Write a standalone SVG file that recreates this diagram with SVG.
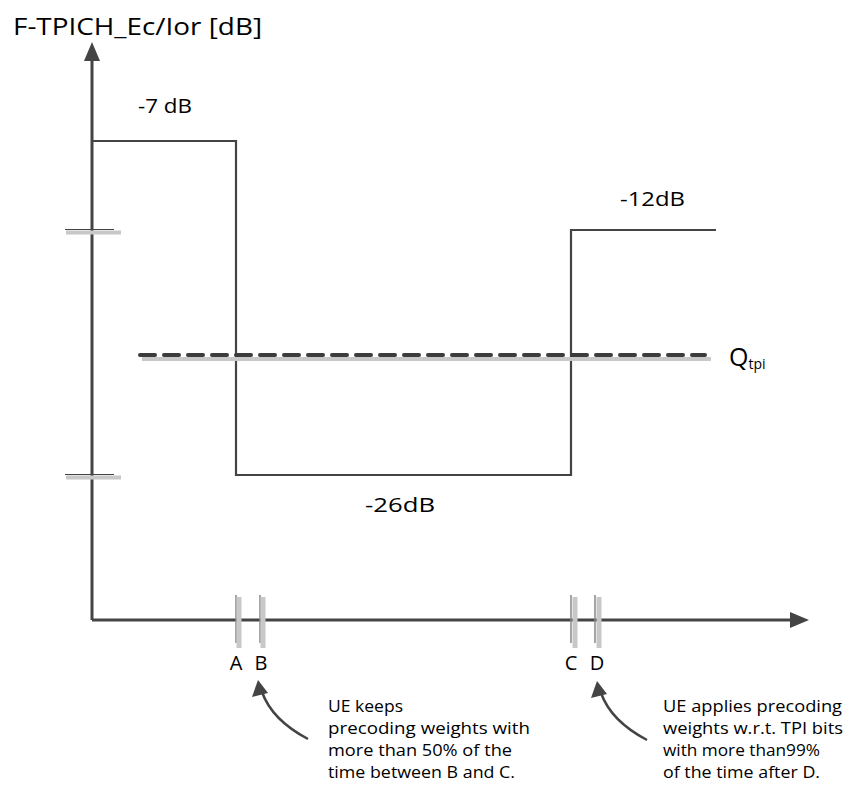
<svg xmlns="http://www.w3.org/2000/svg" width="851" height="789" viewBox="0 0 851 789">
<style>
.t{font-family:"Open Sans","Liberation Sans",sans-serif;fill:#000}
.ax{stroke:#444;stroke-width:3;fill:none}
.sig{stroke:#444;stroke-width:2.2;fill:none}
.gr{stroke:#c8c8c8;fill:none}
.tk{stroke:#888;stroke-width:1.5}
.ah{fill:#444}
</style>
<rect width="851" height="789" fill="#fff"/>
<g id="axes">
<line class="ax" x1="92" y1="620" x2="92" y2="56"/>
<polygon class="ah" points="92,42 84,61 100,61"/>
<line class="ax" x1="92" y1="620" x2="794" y2="620"/>
<polygon class="ah" points="809,620 790,612 790,628"/>
<line x1="65" y1="229.5" x2="114" y2="229.5" stroke="#444" stroke-width="1.2"/>
<line class="gr" x1="66" y1="232.5" x2="121" y2="232.5" stroke-width="4"/>
<line x1="65" y1="474.5" x2="114" y2="474.5" stroke="#444" stroke-width="1.2"/>
<line class="gr" x1="66" y1="477.5" x2="121" y2="477.5" stroke-width="4"/>
</g>
<g id="signal">
<polyline class="sig" points="92,141 236,141 236,475 571,475 571,230 716,230"/>
</g>
<g id="threshold">
<line class="gr" x1="142" y1="359" x2="711" y2="359" stroke-width="4"/>
<line x1="140" y1="355" x2="705" y2="355" stroke="#3c3c3c" stroke-width="4" stroke-linecap="round" stroke-dasharray="15 9"/>
<text class="t" x="729" y="366" font-size="25">Q<tspan font-size="14" dy="3">tpi</tspan></text>
</g>
<g id="marks">
<line class="tk" x1="236" y1="595" x2="236" y2="643"/>
<line class="gr" x1="239" y1="597" x2="239" y2="648" stroke-width="5"/>
<line class="tk" x1="260" y1="595" x2="260" y2="643"/>
<line class="gr" x1="263" y1="597" x2="263" y2="648" stroke-width="5"/>
<line class="tk" x1="571" y1="595" x2="571" y2="643"/>
<line class="gr" x1="575" y1="597" x2="575" y2="648" stroke-width="5"/>
<line class="tk" x1="595" y1="595" x2="595" y2="643"/>
<line class="gr" x1="599" y1="597" x2="599" y2="648" stroke-width="5"/>
<text class="t" x="236" y="670" font-size="20" text-anchor="middle">A</text>
<text class="t" x="261" y="670" font-size="20" text-anchor="middle">B</text>
<text class="t" x="571" y="670" font-size="20" text-anchor="middle">C</text>
<text class="t" x="597" y="670" font-size="20" text-anchor="middle">D</text>
</g>
<g id="labels">
<text class="t" x="13" y="35" font-size="24" textLength="249" lengthAdjust="spacingAndGlyphs">F-TPICH_Ec/Ior [dB]</text>
<text class="t" x="138" y="113" font-size="20" textLength="54" lengthAdjust="spacingAndGlyphs">-7 dB</text>
<text class="t" x="620" y="206" font-size="20" textLength="65" lengthAdjust="spacingAndGlyphs">-12dB</text>
<text class="t" x="365" y="512" font-size="20" textLength="70" lengthAdjust="spacingAndGlyphs">-26dB</text>
</g>
<g id="connectors">
<path d="M308,739 Q272,720 262,692" stroke="#444" stroke-width="2.5" fill="none"/>
<polygon class="ah" points="258,680 252,697 268,693"/>
<path d="M647,740 Q611,721 601,693" stroke="#444" stroke-width="2.5" fill="none"/>
<polygon class="ah" points="597,681 591,698 607,694"/>
</g>
<g id="note1" class="t" font-size="17">
<text x="328" y="712" textLength="75" lengthAdjust="spacingAndGlyphs">UE keeps</text>
<text x="328" y="734" textLength="202" lengthAdjust="spacingAndGlyphs">precoding weights with</text>
<text x="328" y="756" textLength="184" lengthAdjust="spacingAndGlyphs">more than 50% of the</text>
<text x="328" y="778" textLength="187" lengthAdjust="spacingAndGlyphs">time between B and C.</text>
</g>
<g id="note2" class="t" font-size="17">
<text x="663" y="712" textLength="179" lengthAdjust="spacingAndGlyphs">UE applies precoding</text>
<text x="663" y="734" textLength="180" lengthAdjust="spacingAndGlyphs">weights w.r.t. TPI bits</text>
<text x="663" y="756" textLength="157" lengthAdjust="spacingAndGlyphs">with more than99%</text>
<text x="663" y="778" textLength="157" lengthAdjust="spacingAndGlyphs">of the time after D.</text>
</g>
</svg>
